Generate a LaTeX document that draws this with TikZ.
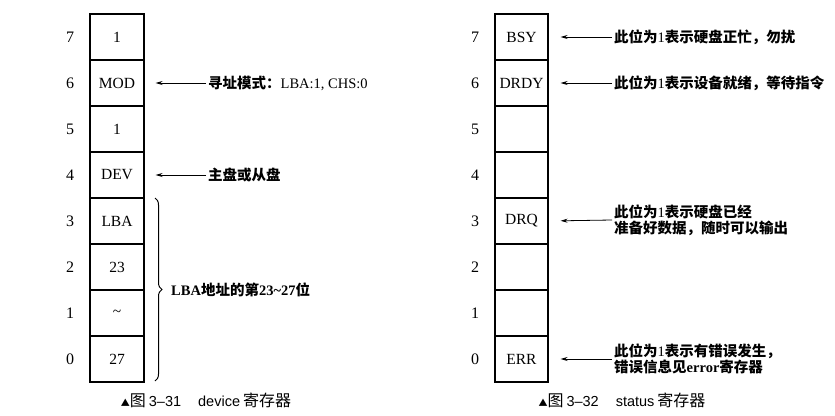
\documentclass[tikz,border=0pt]{standalone}
\usepackage{fontspec}
\setmainfont{Liberation Serif}
\newfontfamily\cjk{Noto Sans CJK SC}
\newfontfamily\capsans{Liberation Sans}
\usetikzlibrary{arrows.meta,decorations.pathreplacing}
\tikzset{
  cell/.style={draw, line width=1.1pt, minimum width=54pt, minimum height=46pt, inner sep=0pt, font=\fontsize{15.5}{17}\selectfont},
  bitnum/.style={font=\fontsize{16}{17}\selectfont, inner sep=0pt},
  lbl/.style={anchor=west, inner sep=2pt, align=left, font=\fontsize{14.5}{16}\selectfont},
  arr/.style={-{Stealth[length=7pt,width=4pt]}, line width=0.8pt},
  captext/.style={font=\fontsize{14.5}{16}\selectfont, inner sep=0pt},
}
\newcommand{\cj}[1]{{\cjk\bfseries #1}}
\newcommand{\capcj}[1]{{\cjk\fontsize{16}{17}\selectfont #1}}
\begin{document}
\begin{tikzpicture}[x=1pt,y=-1pt]
\useasboundingbox (0,0) rectangle (835,415);
% left register
\foreach \b/\t [count=\r from 0] in {7/1,6/MOD,5/1,4/DEV,3/LBA,2/23,1/\textasciitilde,0/27}{
  \node[cell] (L\b) at (117,37+46*\r) {\t};
  \node[bitnum] (LN\b) at (70,37+46*\r) {\b};
}
% right register
\foreach \b/\t [count=\r from 0] in {7/BSY,6/DRDY,5/,4/,3/DRQ,2/,1/,0/ERR}{
  \node[cell, minimum width=53pt] (R\b) at (521.5,37+46*\r) {\t};
  \node[bitnum] (RN\b) at (475,37+46*\r) {\b};
}
% left labels
\node[lbl] (t6) at (206,83) {\cj{寻址模式：}LBA:1, CHS:0};
\node[lbl] (t4) at (206,175) {\cj{主盘或从盘}};
\draw[arr, shorten >=11pt] (t6.west) -- (L6.east);
\draw[arr, shorten >=11pt] (t4.west) -- (L4.east);
% brace
\coordinate (bt) at (155,198);
\coordinate (bb) at (155,381);
\draw[line width=1pt, decorate, decoration={brace, amplitude=7pt}] (bt) -- (bb);
\node[lbl] (tb) at (169,290) {\bfseries LBA\cj{地址的第}23\textasciitilde27\cj{位}};
% right labels
\node[lbl] (s7) at (612,37) {\cj{此位为}1\cj{表示硬盘正忙，勿扰}};
\node[lbl] (s6) at (612,83) {\cj{此位为}1\cj{表示设备就绪，等待指令}};
\node[lbl] (s3) at (612,220) {\cj{此位为}1\cj{表示硬盘已经}\\\cj{准备好数据，随时可以输出}};
\node[lbl] (s0) at (612,359) {\cj{此位为}1\cj{表示有错误发生，}\\\cj{错误信息见}{\bfseries error}\cj{寄存器}};
\draw[arr, shorten >=12pt] (s7.west) -- (R7.east);
\draw[arr, shorten >=12pt] (s6.west) -- (R6.east);
\draw[arr, shorten >=12pt] (s3.west) -- (R3.east);
\draw[arr, shorten >=12pt] (s0.west) -- (R0.east);
% captions
\node[captext] (c1) at (206,400) {{\cjk\fontsize{9}{10}\selectfont ▲}\capcj{图}\hspace{3pt}{\capsans 3–31}\hspace{17pt}{\capsans device}\hspace{3pt}\capcj{寄存器}};
\node[captext] (c2) at (622,400) {{\cjk\fontsize{9}{10}\selectfont ▲}\capcj{图}\hspace{3pt}{\capsans 3–32}\hspace{17pt}{\capsans status}\hspace{3pt}\capcj{寄存器}};
\end{tikzpicture}
\end{document}
